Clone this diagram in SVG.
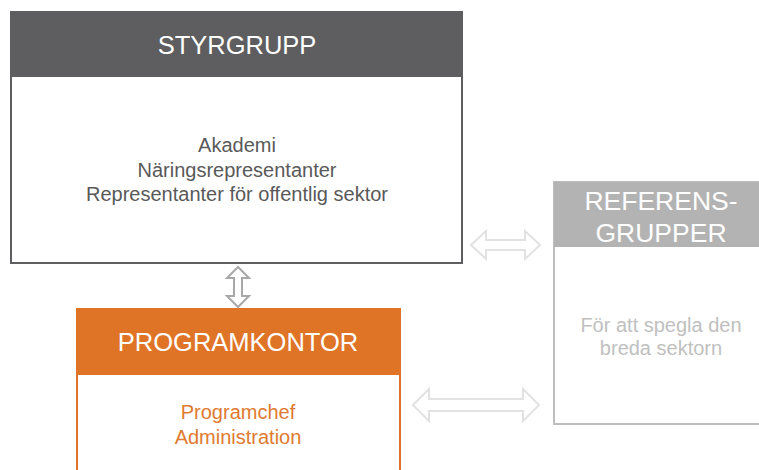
<svg xmlns="http://www.w3.org/2000/svg" width="759" height="470" viewBox="0 0 759 470">
<style>
text{font-family:"Liberation Sans",Arial,sans-serif;text-anchor:middle}
.hd{font-size:25.5px;fill:#ffffff}
.bd{font-size:20px}
.arr{fill:#ffffff;stroke-width:2;stroke-linejoin:miter}
</style>
<rect width="759" height="470" fill="#ffffff"/>
<g id="styrgrupp">
<rect x="11" y="12" width="451" height="251" fill="#ffffff" stroke="#5e5e60" stroke-width="2"/>
<rect x="11" y="12" width="451" height="65" fill="#5e5e60"/>
<text class="hd" x="237" y="54">STYRGRUPP</text>
<text class="bd" x="237" y="152" fill="#595959">Akademi</text>
<text class="bd" x="237" y="177" fill="#595959">Näringsrepresentanter</text>
<text class="bd" x="237" y="201" fill="#595959">Representanter för offentlig sektor</text>
</g>
<g id="referensgrupper">
<rect x="554" y="182" width="220" height="242" fill="#ffffff" stroke="#bdbdbd" stroke-width="2"/>
<rect x="554" y="182" width="220" height="65" fill="#b3b3b3"/>
<text class="hd" x="661" y="210" style="font-size:26.5px">REFERENS-</text>
<text class="hd" x="661" y="242" style="font-size:26.5px">GRUPPER</text>
<text class="bd" x="661" y="332" fill="#c0c0c0">För att spegla den</text>
<text class="bd" x="661" y="355" fill="#c0c0c0">breda sektorn</text>
</g>
<g id="programkontor">
<rect x="77" y="309" width="323" height="180" fill="#ffffff" stroke="#e07426" stroke-width="2"/>
<rect x="77" y="309" width="323" height="66" fill="#e07426"/>
<text class="hd" x="238" y="351">PROGRAMKONTOR</text>
<text class="bd" x="238" y="419" fill="#e07a30">Programchef</text>
<text class="bd" x="238" y="444" fill="#e07a30">Administration</text>
</g>
<g id="connectors">
<path class="arr" stroke="#a8a8a8" d="M238,267 L249,278 L242,278 L242,296 L249,296 L238,307 L227,296 L234,296 L234,278 L227,278 Z"/>
<path class="arr" stroke="#e2e2e2" d="M471,245 L486,231 L486,240 L525,240 L525,231 L540,245 L525,259 L525,250 L486,250 L486,259 Z"/>
<path class="arr" stroke="#e2e2e2" d="M413,405 L429,389 L429,399 L523,399 L523,389 L539,405 L523,421 L523,411 L429,411 L429,421 Z"/>
</g>
</svg>
